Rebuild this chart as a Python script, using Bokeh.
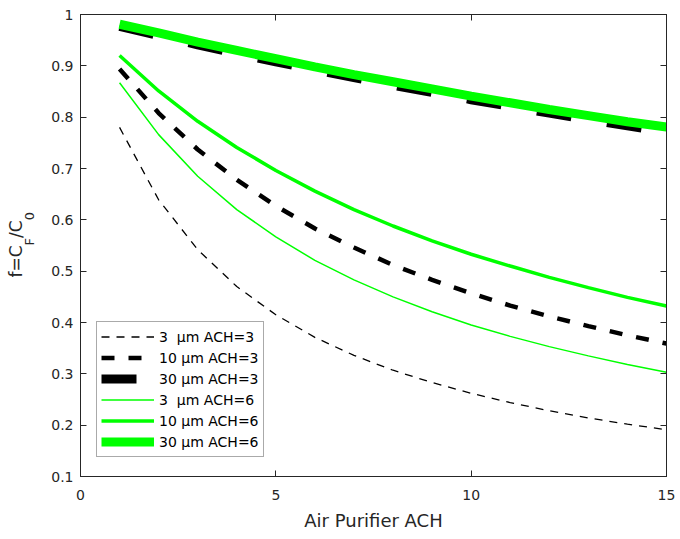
from bokeh.plotting import figure
from bokeh.models import Range1d, FixedTicker, LinearAxis, Legend, LegendItem, Label
from bokeh.layouts import row
from bokeh.embed import file_html
from bokeh.resources import INLINE

# ---- data ----
purifier_ach = [1, 2, 3, 4, 5, 6, 7, 8, 9, 10, 11, 12, 13, 14, 15]

f_3um_ach3 = [0.780, 0.639, 0.542, 0.470, 0.415, 0.371, 0.336, 0.307,
              0.283, 0.262, 0.244, 0.228, 0.214, 0.202, 0.191]
f_10um_ach3 = [0.894, 0.808, 0.737, 0.678, 0.627, 0.583, 0.546, 0.512,
               0.483, 0.457, 0.433, 0.412, 0.393, 0.375, 0.359]
f_30um_ach3 = [0.977, 0.959, 0.941, 0.924, 0.908, 0.892, 0.877, 0.862,
               0.848, 0.834, 0.821, 0.808, 0.795, 0.783, 0.771]
f_3um_ach6 = [0.867, 0.766, 0.685, 0.620, 0.567, 0.521, 0.483, 0.450,
              0.421, 0.395, 0.373, 0.353, 0.335, 0.318, 0.303]
f_10um_ach6 = [0.920, 0.851, 0.792, 0.741, 0.696, 0.656, 0.620, 0.588,
               0.559, 0.533, 0.510, 0.488, 0.468, 0.449, 0.432]
f_30um_ach6 = [0.981, 0.964, 0.946, 0.930, 0.914, 0.898, 0.883, 0.869,
               0.855, 0.841, 0.828, 0.815, 0.803, 0.791, 0.781]

series_labels = ["3\u00a0\u00a0\u03bcm ACH=3", "10 \u03bcm ACH=3", "30 \u03bcm ACH=3",
                 "3\u00a0\u00a0\u03bcm ACH=6", "10 \u03bcm ACH=6", "30 \u03bcm ACH=6"]

x_ticks = [0, 5, 10, 15]
y_ticks = [0.1, 0.2, 0.3, 0.4, 0.5, 0.6, 0.7, 0.8, 0.9, 1.0]

x_label = "Air Purifier ACH"
# y label f=C_F/C_0 : (text, is_subscript)
y_label_parts = [("f=C", False), ("F", True), ("/C", False), ("0", True)]

# ---- styling ----
FONT = "DejaVu Sans"
AX = "#262626"
GREEN = "#00ff00"
BLACK = "#000000"
W, H = 680, 539
LABEL_W = 40

p = figure(width=W - LABEL_W, height=H, output_backend="svg", toolbar_location=None,
           x_range=Range1d(0, 15), y_range=Range1d(0.1, 1.0),
           min_border_left=80 - LABEL_W, min_border_right=14, min_border_top=14,
           min_border_bottom=63, background_fill_color="white",
           border_fill_color="white")
p.grid.visible = False
p.outline_line_color = AX

bottom_ax = p.xaxis[0]
left_ax = p.yaxis[0]

styles = [
    dict(color=BLACK, width=1.3, dash="8 7"),
    dict(color=BLACK, width=4.5, dash="13 14"),
    dict(color=BLACK, width=9, dash="35 36"),
    dict(color=GREEN, width=1.5, dash="solid"),
    dict(color=GREEN, width=3.5, dash="solid"),
    dict(color=GREEN, width=9, dash="solid"),
]
all_series = [f_3um_ach3, f_10um_ach3, f_30um_ach3, f_3um_ach6, f_10um_ach6, f_30um_ach6]

renderers = []
for ys, st in zip(all_series, styles):
    r = p.line(purifier_ach, ys, line_color=st["color"], line_width=st["width"],
               line_dash=st["dash"])
    renderers.append(r)

# axes (box on all four sides, ticks pointing inward)
bottom_ax.ticker = FixedTicker(ticks=x_ticks)
left_ax.ticker = FixedTicker(ticks=y_ticks)
left_ax.major_label_overrides = {1.0: "1"}

right_ax = LinearAxis(ticker=FixedTicker(ticks=y_ticks))
top_ax = LinearAxis(ticker=FixedTicker(ticks=x_ticks))
p.add_layout(right_ax, "right")
p.add_layout(top_ax, "above")

for ax in [bottom_ax, left_ax, right_ax, top_ax]:
    ax.axis_line_color = AX
    ax.major_tick_line_color = AX
    ax.major_tick_in = 6
    ax.major_tick_out = 0
    ax.minor_tick_in = 0
    ax.minor_tick_out = 0
    ax.minor_tick_line_color = None
    ax.major_label_text_font = FONT
    ax.major_label_text_font_size = "14px"
    ax.major_label_text_color = AX

for ax in [right_ax, top_ax]:
    ax.major_label_text_color = None
    ax.major_label_text_font_size = "1px"
    ax.major_label_standoff = 0

left_ax.major_label_standoff = 7
bottom_ax.major_label_standoff = 13
bottom_ax.axis_label = x_label
bottom_ax.axis_label_text_font = FONT
bottom_ax.axis_label_text_font_size = "18px"
bottom_ax.axis_label_text_font_style = "normal"
bottom_ax.axis_label_text_color = AX
bottom_ax.axis_label_standoff = 7

legend = Legend(items=[LegendItem(label=l, renderers=[r]) for l, r in zip(series_labels, renderers)],
                location=(16, 19), glyph_width=53, glyph_height=21, label_height=21,
                spacing=0, padding=4, label_standoff=5, margin=0,
                label_text_font=FONT, label_text_font_size="14px", label_text_color=BLACK,
                border_line_color="#555555", border_line_width=1,
                background_fill_color="white", background_fill_alpha=1.0)
p.add_layout(legend)

# ---- narrow strip on the left holding the rotated y-axis label ----
# it shares the y range of the main plot, so vertical placement follows the main axes
lab_fig = figure(width=LABEL_W, height=H, output_backend="svg", toolbar_location=None,
                 x_range=Range1d(0, LABEL_W), y_range=p.y_range,
                 x_axis_location=None, y_axis_location=None,
                 min_border=0, min_border_left=0, min_border_right=0,
                 min_border_top=14, min_border_bottom=63,
                 background_fill_color="white", border_fill_color="white")
lab_fig.grid.visible = False
lab_fig.outline_line_color = None

main_fs, sub_fs = 17, 13
em_width = {"f=C": 1.888, "F": 0.575, "/C": 1.035, "0": 0.636}
frame_h = H - 14 - 63
units_per_px = 0.9 / frame_h
pos = 199.0  # px above the bottom of the frame where the label starts
for txt, is_sub in y_label_parts:
    fs = sub_fs if is_sub else main_fs
    lab = Label(x=(29 if is_sub else 15), y=0.1 + pos * units_per_px,
                x_units="data", y_units="data",
                text=txt, angle=1.5707963267948966, text_font=FONT,
                text_font_size=f"{fs}px", text_color=AX, text_align="left",
                text_baseline="alphabetic")
    lab_fig.add_layout(lab)
    pos += em_width[txt] * fs

layout = row(lab_fig, p, spacing=0)
open("out.html", "w").write(file_html(layout, INLINE))
